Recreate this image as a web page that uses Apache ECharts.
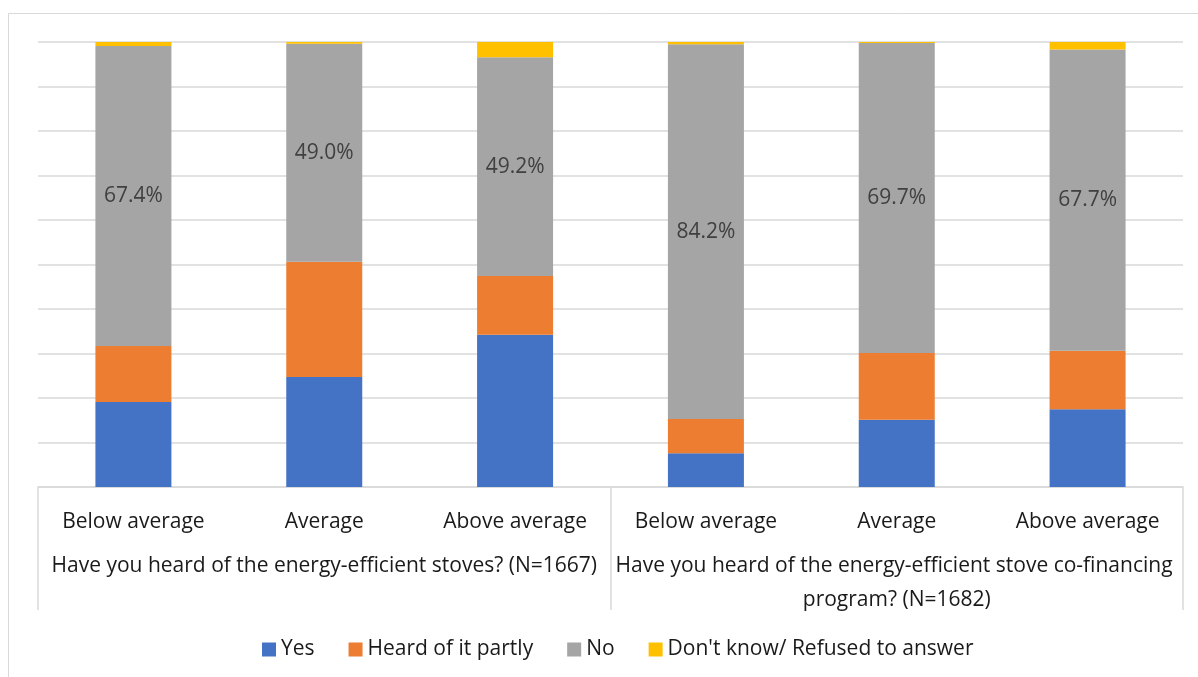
<!DOCTYPE html>
<html><head><meta charset="utf-8">
<script src="https://cdn.jsdelivr.net/npm/echarts@6/dist/echarts.min.js"></script>
<style>html,body{margin:0;padding:0;background:#fff}#c{width:1198px;height:677px}</style>
</head><body><div id="c"></div>
<script>
const categories = ['Below average','Average','Above average','Below average','Average','Above average'];
const groups = ['Have you heard of the energy-efficient stoves? (N=1667)','Have you heard of the energy-efficient stove co-financing program? (N=1682)'];
const yesVals = [19.1, 24.7, 34.2, 7.6, 15.1, 17.5];
const partlyVals = [12.6, 25.9, 13.2, 7.7, 15.0, 13.1];
const noVals = [67.4, 49.0, 49.2, 84.2, 69.7, 67.7];
const dkVals = [0.9, 0.4, 3.4, 0.5, 0.2, 1.7];
const seriesNames = ['Yes','Heard of it partly','No',"Don't know/ Refused to answer"];
const colors = ['#4472C4','#ED7D31','#A5A5A5','#FFC000'];

const font = '"Open Sans", sans-serif';
const chart = echarts.init(document.getElementById('c'));
const mk = (name, data, color, label) => ({
  name, type:'bar', stack:'t', data, barWidth:76, itemStyle:{color},
  label: label ? {show:true, position:'inside', formatter: p => p.value.toFixed(1)+'%', color:'#404040', fontSize:21, fontFamily:font} : {show:false},
  emphasis:{disabled:true}
});
chart.setOption({
  animation:false,
  textStyle:{fontFamily:font},
  graphic:[{type:'rect', shape:{x:8.5,y:13.5,width:1200,height:700}, style:{fill:null, stroke:'#D9D9D9', lineWidth:1}, silent:true}],
  grid:{left:38,right:15,top:42,bottom:190},
  legend:{bottom:12, left:257, itemWidth:14, itemHeight:14, itemGap:34, itemTextGap:7, icon:'rect',
    textStyle:{fontSize:21, color:'#1a1a1a', fontFamily:font}, data:seriesNames},
  xAxis:[
    {type:'category', data:categories, position:'bottom',
     axisLine:{show:true, lineStyle:{color:'#D9D9D9', width:1.5}}, axisTick:{show:false},
     axisLabel:{fontSize:21, color:'#1a1a1a', margin:25, interval:0, fontFamily:font}},
    {type:'category', data:groups, position:'bottom',
     axisLine:{show:false}, axisTick:{show:true, length:123, lineStyle:{color:'#D9D9D9', width:1.5}, interval:0},
     axisLabel:{fontSize:21, color:'#1a1a1a', margin:62, interval:0, width:572, overflow:'break', lineHeight:34, fontFamily:font}}
  ],
  yAxis:{type:'value', min:0, max:100, interval:10, axisLabel:{show:false}, axisLine:{show:false}, axisTick:{show:false},
    splitLine:{lineStyle:{color:'#D9D9D9', width:1.5}}},
  series:[
    mk(seriesNames[0], yesVals, colors[0], false),
    mk(seriesNames[1], partlyVals, colors[1], false),
    mk(seriesNames[2], noVals, colors[2], true),
    mk(seriesNames[3], dkVals, colors[3], false)
  ]
});
</script></body></html>
